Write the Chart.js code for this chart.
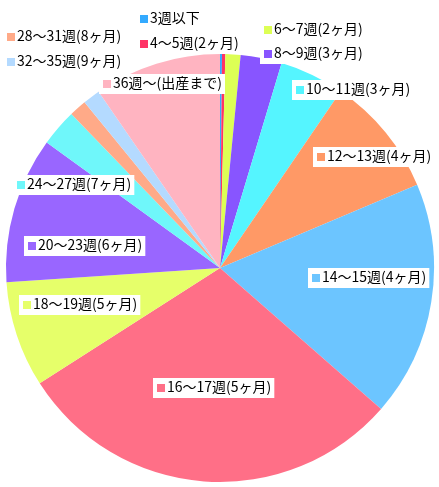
<!DOCTYPE html>
<html>
<head>
<meta charset="utf-8">
<script src="https://cdn.jsdelivr.net/npm/chart.js@4"></script>
<style>
html,body{margin:0;padding:0;background:#fff;}
canvas{display:block;}
</style>
</head>
<body>
<canvas id="c" width="439" height="487"></canvas>
<script>
// ---- data ----
const categories = [
  "3週以下", "4～5週(2ヶ月)", "6～7週(2ヶ月)", "8～9週(3ヶ月)", "10～11週(3ヶ月)",
  "12～13週(4ヶ月)", "14～15週(4ヶ月)", "16～17週(5ヶ月)", "18～19週(5ヶ月)",
  "20～23週(6ヶ月)", "24～27週(7ヶ月)", "28～31週(8ヶ月)", "32～35週(9ヶ月)", "36週～(出産まで)"
];
const shares = [0.15, 0.25, 1.14, 3.11, 4.89, 9.1, 17.8, 29.5, 8.0, 11.04, 2.8, 1.31, 1.31, 9.6];
const colors = [
  "#33AAFF", "#FF3366", "#DDFF55", "#8855FF", "#55F5FF",
  "#FF9966", "#6CC5FF", "#FF6F87", "#E6FF6A",
  "#9966FF", "#6FF7FA", "#FFAA88", "#B4DAFF", "#FFB4C1"
];
// label layout: [square left x, centre y]
const labelLayout = [
  [140, 19], [140, 44], [264, 30], [264, 54], [296, 90],
  [317, 157], [312, 278], [157, 388], [23, 305],
  [28, 246], [17, 185], [7, 37], [7, 62], [103, 84]
];

const labelPlugin = {
  id: 'boxLabels',
  afterDraw(chart) {
    const ctx = chart.ctx;
    ctx.save();
    ctx.font = '14px "Noto Sans CJK JP", sans-serif';
    ctx.textBaseline = 'middle';
    categories.forEach((name, i) => {
      const [sx, cy] = labelLayout[i];
      const tx = sx + 10;
      const w = ctx.measureText(name).width;
      ctx.fillStyle = '#ffffff';
      ctx.fillRect(sx - 4, cy - 10, (tx + w + 3) - (sx - 4), 20);
      ctx.fillStyle = colors[i];
      ctx.fillRect(sx, cy - 4, 8, 8);
      ctx.fillStyle = '#000000';
      ctx.fillText(name, tx, cy - 1);
    });
    ctx.restore();
  }
};

new Chart(document.getElementById('c'), {
  type: 'pie',
  data: {
    labels: categories,
    datasets: [{
      data: shares,
      backgroundColor: colors,
      borderWidth: 0
    }]
  },
  options: {
    responsive: false,
    devicePixelRatio: 1,
    animation: false,
    layout: { padding: { left: 6, right: 5, top: 54, bottom: 5 } },
    plugins: {
      legend: { display: false },
      tooltip: { enabled: false },
      title: { display: false }
    }
  },
  plugins: [labelPlugin]
});
</script>
</body>
</html>
